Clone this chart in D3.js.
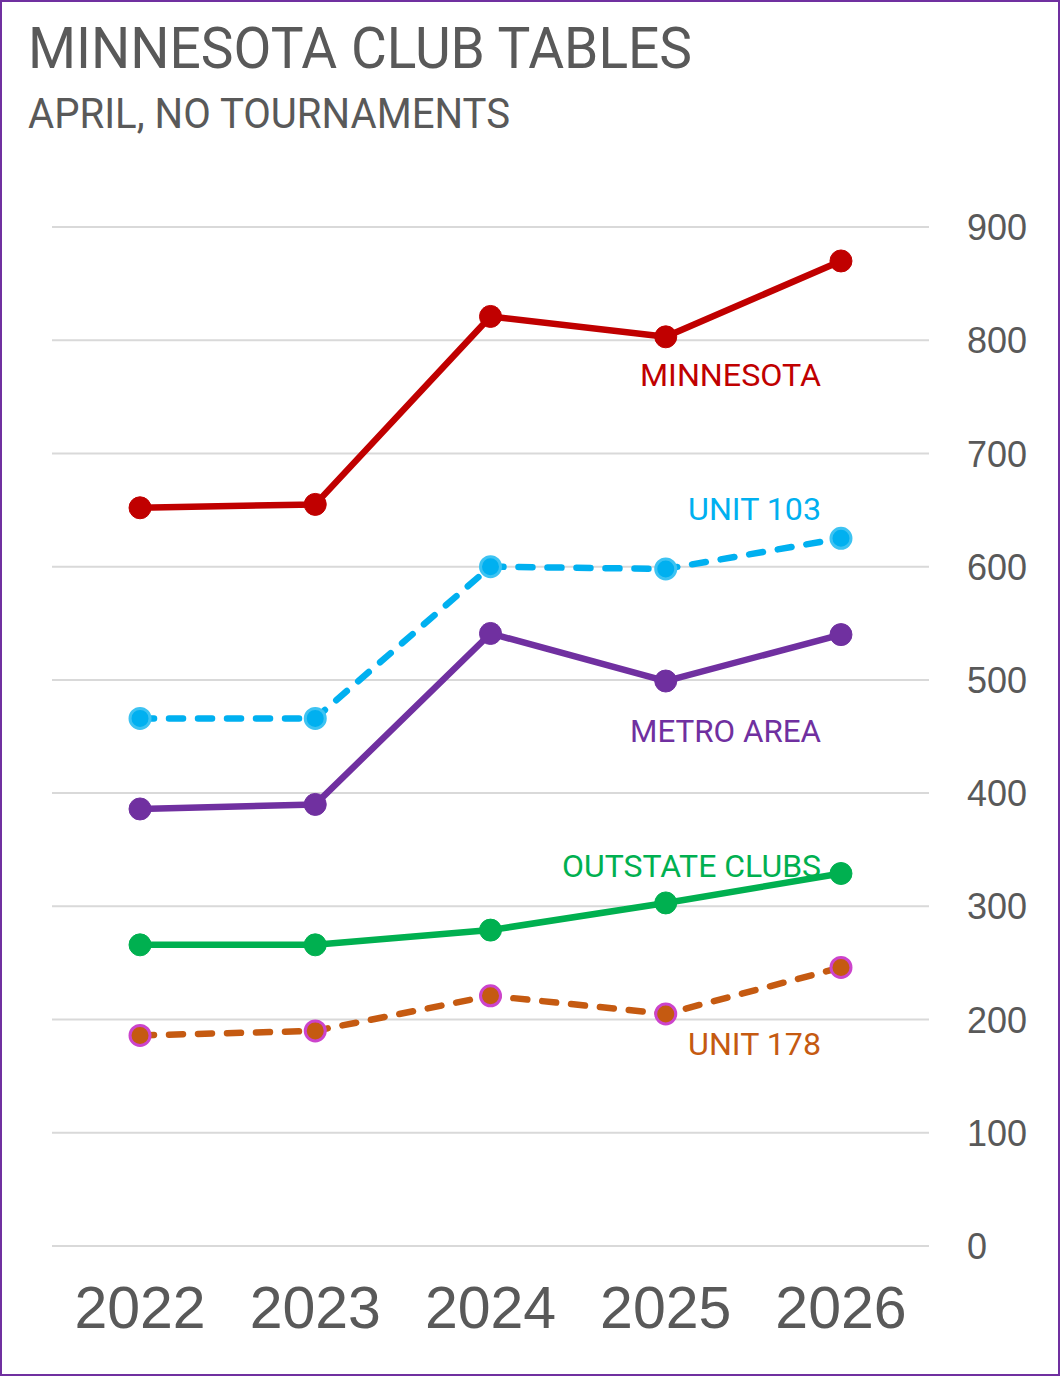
<!DOCTYPE html>
<html>
<head>
<meta charset="utf-8">
<script src="https://cdn.jsdelivr.net/npm/d3@7"></script>
<style>
  html, body { margin: 0; padding: 0; background: #fff; }
  svg { display: block; }
</style>
</head>
<body>
<svg id="chart" width="1060" height="1376"></svg>
<script>
// ---- Data ----
const years = ["2022", "2023", "2024", "2025", "2026"];
const minnesota = [652, 655, 821, 803, 870];
const unit103   = [466, 466, 600, 598, 625];
const metroArea = [386, 390, 541, 499, 540];
const outstate  = [266, 266, 279, 303, 329];
const unit178   = [186, 190, 221, 205, 246];
const yTicks = [0, 100, 200, 300, 400, 500, 600, 700, 800, 900];
const seriesNames = ["MINNESOTA", "UNIT 103", "METRO AREA", "OUTSTATE CLUBS", "UNIT 178"];

const series = [
  { name: seriesNames[0], values: minnesota, color: "#C00000", dash: null, mStroke: "#C00000", labelY: 386, labelW: 181 },
  { name: seriesNames[1], values: unit103,   color: "#00B0F0", dash: "14 15", mStroke: "#3DC3F2", labelY: 520, labelW: 133 },
  { name: seriesNames[2], values: metroArea, color: "#7030A0", dash: null, mStroke: "#7030A0", labelY: 742, labelW: 191 },
  { name: seriesNames[3], values: outstate,  color: "#00B050", dash: null, mStroke: "#00B050", labelY: 877, labelW: 259 },
  { name: seriesNames[4], values: unit178,   color: "#C55A11", dash: "14 15", mStroke: "#CC44CC", labelY: 1055, labelW: 133 }
];

const svg = d3.select("#chart");
const W = 1060, H = 1376;

// border
svg.append("rect").attr("x", 1).attr("y", 1).attr("width", W - 2).attr("height", H - 2)
  .attr("fill", "#fff").attr("stroke", "#7030A0").attr("stroke-width", 2);

// titles
svg.append("text").attr("x", 28).attr("y", 68)
  .attr("font-family", "Roboto, 'Noto Sans', sans-serif").attr("font-size", 57)
  .attr("fill", "#595959").attr("textLength", 664).attr("lengthAdjust", "spacingAndGlyphs")
  .text("MINNESOTA CLUB TABLES");
svg.append("text").attr("x", 28).attr("y", 128)
  .attr("font-family", "Roboto, 'Noto Sans', sans-serif").attr("font-size", 42)
  .attr("fill", "#595959").attr("textLength", 482).attr("lengthAdjust", "spacingAndGlyphs")
  .text("APRIL, NO TOURNAMENTS");

// scales
const x = d3.scaleBand().domain(years).range([52.4, 928.6]);
const y = d3.scaleLinear().domain([0, 900]).range([1246, 227]);
const cx = d => x(d) + x.bandwidth() / 2;

// gridlines
svg.append("g").selectAll("line").data(yTicks).join("line")
  .attr("x1", 52).attr("x2", 929)
  .attr("y1", d => y(d)).attr("y2", d => y(d))
  .attr("stroke", "#D9D9D9").attr("stroke-width", 2);

// y axis (right)
const yAxis = d3.axisRight(y).tickValues(yTicks).tickSize(0).tickPadding(0);
const gy = svg.append("g").attr("transform", "translate(967,0)").call(yAxis);
gy.select(".domain").remove();
gy.selectAll("text")
  .attr("font-family", "'Liberation Sans', Arial, sans-serif").attr("font-size", 36)
  .attr("fill", "#595959").attr("x", 0).attr("dy", "0.35em").attr("text-anchor", "start");

// x axis
const xAxis = d3.axisBottom(x).tickSize(0).tickPadding(0);
const gx = svg.append("g").attr("transform", "translate(0,1328)").call(xAxis);
gx.select(".domain").remove();
gx.selectAll("text")
  .attr("font-family", "'Liberation Sans', Arial, sans-serif").attr("font-size", 59)
  .attr("fill", "#595959").attr("y", 0).attr("dy", 0);

// lines
const line = d3.line().x((d, i) => cx(years[i])).y(d => y(d));
const gS = svg.append("g");
series.forEach(s => {
  const p = gS.append("path").datum(s.values)
    .attr("d", line).attr("fill", "none")
    .attr("stroke", s.color).attr("stroke-width", 6.5)
    .attr("stroke-linejoin", "round");
  if (s.dash) p.attr("stroke-dasharray", s.dash).attr("stroke-linecap", "round");
});
series.forEach(s => {
  gS.append("g").selectAll("circle").data(s.values).join("circle")
    .attr("cx", (d, i) => cx(years[i])).attr("cy", d => y(d))
    .attr("r", s.dash ? 10 : 11)
    .attr("fill", s.color)
    .attr("stroke", s.mStroke).attr("stroke-width", s.dash ? 3 : 1);
});

// labels
series.forEach(s => {
  svg.append("text").attr("x", 821).attr("y", s.labelY)
    .attr("text-anchor", "end")
    .attr("font-family", "Roboto, 'Noto Sans', sans-serif").attr("font-size", 32)
    .attr("fill", s.color).attr("textLength", s.labelW).attr("lengthAdjust", "spacingAndGlyphs")
    .text(s.name);
});
</script>
</body>
</html>
